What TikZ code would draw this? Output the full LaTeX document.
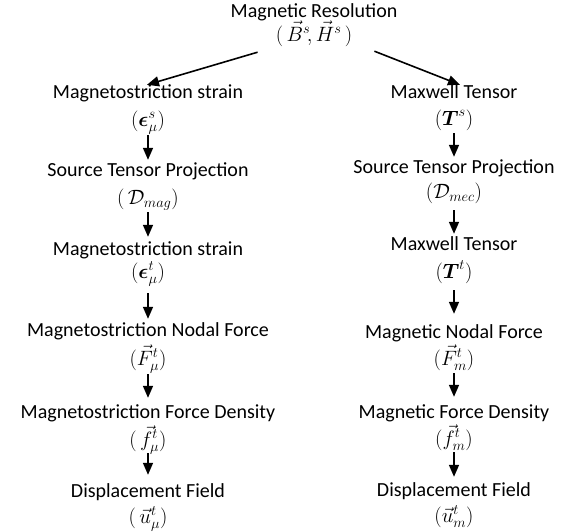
\documentclass[tikz,border=0pt]{standalone}
\usepackage{amsmath}
\usepackage[no-math]{fontspec}
\setmainfont{Carlito}
\usetikzlibrary{arrows.meta}
\tikzset{
  lbl/.style={font=\fontsize{20}{24}\selectfont, inner sep=2pt, text height=14pt, text depth=5pt, anchor=base},
  mth/.style={font=\fontsize{20}{24}\selectfont, inner sep=2pt, text height=15pt, text depth=5pt, anchor=base},
  arr/.style={line width=1.6pt, -{Triangle[length=12pt,width=10pt]}},
}
\begin{document}
\begin{tikzpicture}[x=1pt,y=-1pt]
\useasboundingbox (0,0) rectangle (578,531);
% title
\node[lbl] (t) at (314,17) {Magnetic Resolution};
\node[mth] (tm) at (314,41) {$(\,\vec{B}^s\!,\vec{H}^s\,)$};
% left column
\node[lbl] (l1) at (148,98) {Magnetostriction strain};
\node[mth] (l1m) at (148,126) {$(\boldsymbol{\epsilon}^s_\mu)$};
\node[lbl] (l2) at (148,176) {Source Tensor Projection};
\node[mth] (l2m) at (148,204) {$(\,\mathcal{D}_{mag})$};
\node[lbl] (l3) at (148,255) {Magnetostriction strain};
\node[mth] (l3m) at (148,278) {$(\boldsymbol{\epsilon}^t_\mu)$};
\node[lbl] (l4) at (148,336) {Magnetostriction Nodal Force};
\node[mth] (l4m) at (148,365) {$(\vec{F}^t_\mu)$};
\node[lbl] (l5) at (148,418) {Magnetostriction Force Density};
\node[mth] (l5m) at (148,446) {$(\,\vec{f}^t_\mu)$};
\node[lbl] (l6) at (148,497) {Displacement Field};
\node[mth] (l6m) at (148,523) {$(\,\vec{u}^t_\mu)$};
% right column
\node[lbl] (r1) at (454,98) {Maxwell Tensor};
\node[mth] (r1m) at (454,125) {$(\boldsymbol{T}^s)$};
\node[lbl] (r2) at (454,173) {Source Tensor Projection};
\node[mth] (r2m) at (454,198) {$(\mathcal{D}_{mec})$};
\node[lbl] (r3) at (454,250) {Maxwell Tensor};
\node[mth] (r3m) at (454,278) {$(\boldsymbol{T}^t)$};
\node[lbl] (r4) at (454,338) {Magnetic Nodal Force};
\node[mth] (r4m) at (454,365) {$(\vec{F}^t_m)$};
\node[lbl] (r5) at (454,418) {Magnetic Force Density};
\node[mth] (r5m) at (454,445) {$(\vec{f}^t_m)$};
\node[lbl] (r6) at (454,496) {Displacement Field};
\node[mth] (r6m) at (454,522) {$(\vec{u}^t_m)$};
% diagonal arrows
\draw[arr] ([xshift=-16pt,yshift=-4pt]tm.south west) -- ([xshift=-1pt,yshift=-3pt]l1.north);
\draw[arr] ([xshift=20pt,yshift=-3pt]tm.south east) -- ([xshift=6pt,yshift=-3pt]r1.north);
% left arrows
\draw[arr, shorten <=2pt, shorten >=0pt] (l1m.south) -- (l2.north);
\draw[arr, shorten <=1pt, shorten >=2pt] (l2m.south) -- (l3.north);
\draw[arr, shorten <=8pt, shorten >=1pt] (l3m.south) -- (l4.north);
\draw[arr, shorten <=2pt, shorten >=4pt] (l4m.south) -- (l5.north);
\draw[arr, shorten <=0pt, shorten >=6pt] (l5m.south) -- (l6.north);
% right arrows
\draw[arr, shorten <=1pt, shorten >=0pt] (r1m.south) -- (r2.north);
\draw[arr, shorten <=5pt, shorten >=0pt] (r2m.south) -- (r3.north);
\draw[arr, shorten <=5pt, shorten >=8pt] (r3m.south) -- (r4.north);
\draw[arr, shorten <=1pt, shorten >=5pt] (r4m.south) -- (r5.north);
\draw[arr, shorten <=0pt, shorten >=3pt] (r5m.south) -- (r6.north);
\end{tikzpicture}
\end{document}
